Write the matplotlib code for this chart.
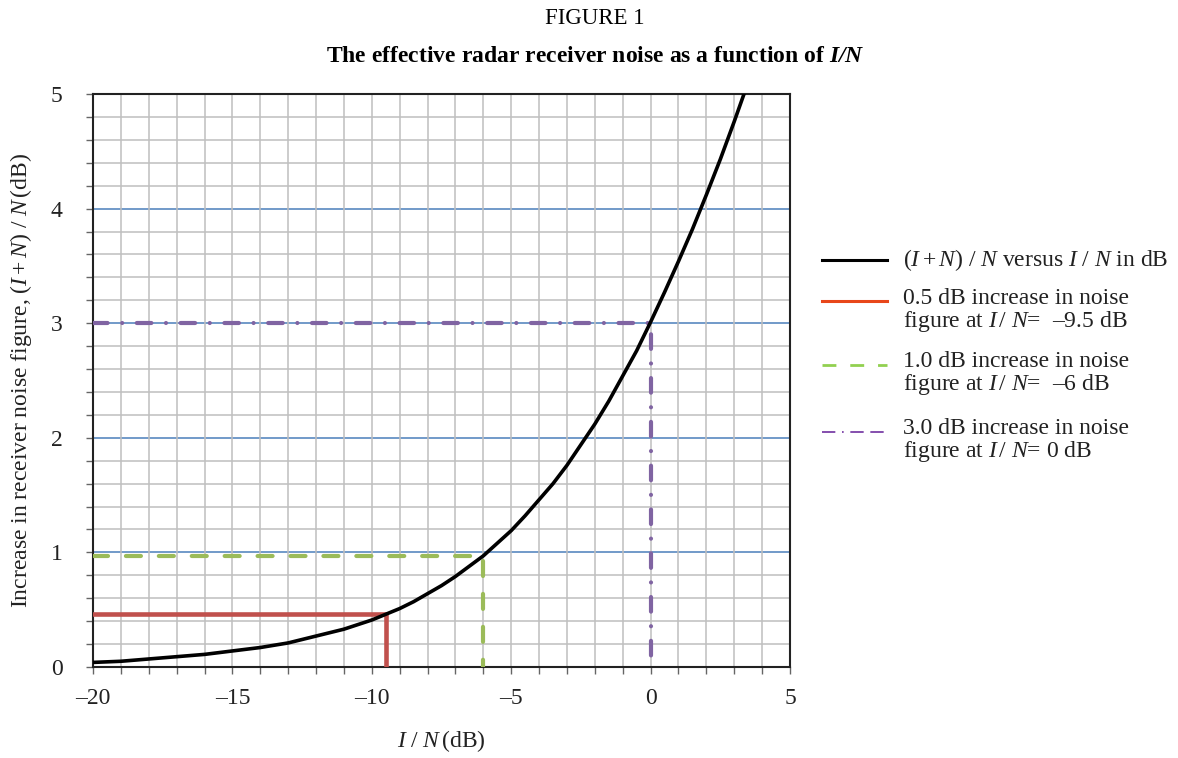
import matplotlib
matplotlib.use("Agg")
import matplotlib.pyplot as plt
from matplotlib.lines import Line2D
from matplotlib.ticker import MultipleLocator

plt.rcParams['font.family'] = ['Liberation Serif', 'DejaVu Serif']
plt.rcParams['mathtext.fontset'] = 'custom'
plt.rcParams['mathtext.rm'] = 'Liberation Serif'
plt.rcParams['mathtext.it'] = 'Liberation Serif:italic'
plt.rcParams['mathtext.bf'] = 'Liberation Serif:bold'
plt.rcParams['mathtext.bfit'] = 'Liberation Serif:bold:italic'

# ---- data ----
curve_x = [-20, -19, -18, -17, -16, -15, -14, -13, -12, -11, -10, -9.5, -9, -8.5, -8,
           -7.5, -7, -6.5, -6, -5.5, -5, -4.5, -4, -3.5, -3, -2.5, -2, -1.5, -1, -0.5,
           0, 0.5, 1, 1.5, 2, 2.5, 3, 3.35]
curve_y = [0.04, 0.05, 0.07, 0.09, 0.11, 0.14, 0.17, 0.21, 0.27, 0.33, 0.41, 0.46, 0.51,
           0.57, 0.64, 0.71, 0.79, 0.88, 0.97, 1.08, 1.19, 1.32, 1.46, 1.60, 1.76, 1.94,
           2.12, 2.32, 2.54, 2.76, 3.01, 3.27, 3.54, 3.82, 4.12, 4.43, 4.76, 5.00]

red_x = [-20, -9.5, -9.5]
red_y = [0.46, 0.46, 0.0]
green_x = [-20, -6, -6]
green_y = [0.97, 0.97, 0.0]
purple_x = [-20, 0, 0]
purple_y = [3.0, 3.0, 0.0]

x_ticks = [-20, -15, -10, -5, 0, 5]
x_tick_labels = ['–20', '–15', '–10', '–5', '0', '5']
y_ticks = [0, 1, 2, 3, 4, 5]
blue_levels = [1, 2, 3, 4]

legend_labels = [
    r'$(I + N)\ /\ N$ versus $I\ /\ N$ in dB',
    '0.5 dB increase in noise\nfigure at $I\\,/\\ N$=  –9.5 dB',
    '1.0 dB increase in noise\nfigure at $I\\,/\\ N$=  –6 dB',
    '3.0 dB increase in noise\nfigure at $I\\,/\\ N$= 0 dB',
]

W, H = 1178, 758
fig = plt.figure(figsize=(W / 100, H / 100), dpi=100)
ax = fig.add_axes([93 / W, 1 - 667 / H, (790 - 93) / W, (667 - 94) / H])

ax.set_xlim(-20, 5)
ax.set_ylim(0, 5)

# grid
ax.xaxis.set_minor_locator(MultipleLocator(1))
ax.yaxis.set_minor_locator(MultipleLocator(0.2))
ax.grid(which='minor', color='#bfbfbf', linewidth=1.1, zorder=0)
ax.grid(which='major', axis='x', color='#bfbfbf', linewidth=1.1, zorder=0)
for lv in blue_levels:
    ax.axhline(lv, color='#4a7ebb', linewidth=1.1, zorder=1)

ax.set_xticks(x_ticks)
ax.set_xticklabels(x_tick_labels)
ax.set_yticks(y_ticks)
ax.tick_params(axis='both', which='both', direction='out', color='#666666', labelsize=17,
               labelcolor='#222222')
ax.tick_params(axis='x', which='both', length=5, width=1, pad=10)
ax.tick_params(axis='y', which='both', length=5, width=1, pad=17)
for s in ax.spines.values():
    s.set_color('#222222')
    s.set_linewidth(1.5)

# reference lines
ax.plot(red_x, red_y, color='#c0504d', linewidth=3.3, zorder=3, solid_joinstyle='miter')
ax.plot(green_x, green_y, color='#9bbb59', linewidth=3.0, zorder=3,
        linestyle=(0, (3.6, 4.3)), dash_capstyle='round')
ax.plot(purple_x, purple_y, color='#8064a2', linewidth=3.0, zorder=3,
        linestyle=(0, (3.5, 3.5, 0.01, 3.5)), dash_capstyle='round')
ax.plot(curve_x, curve_y, color='black', linewidth=2.6, zorder=4, clip_on=True)

ax.set_xlabel(r'$I\ /\ N\,$(dB)', fontsize=17, labelpad=14, color='#222222')
ax.set_ylabel(r'Increase in receiver noise figure, $(I + N)\ /\ N\,$(dB)', fontsize=17,
              labelpad=12, color='#222222')

fig.text(595 / W, 1 - 18 / H, 'FIGURE 1', ha='center', va='center', fontsize=16.5)
fig.text(595 / W, 1 - 56 / H,
         r'The effective radar receiver noise as a function of $\mathbfit{I/N}$',
         ha='center', va='center', fontsize=17, fontweight='bold')

# manual legend
leg_colors = ['black', '#e8471a', '#92d050', '#7030a0']
leg_styles = ['-', '-', (0, (5, 5)), (0, (8, 4, 1, 4, 8, 4))]
leg_widths = [2.2, 2.2, 2.0, 1.2]
leg_line_y = [260, 301, 365, 432]
leg_text_y = [260, 311, 374, 441]
for c, st, lw, ly, ty, lab in zip(leg_colors, leg_styles, leg_widths, leg_line_y, leg_text_y, legend_labels):
    fig.add_artist(Line2D([822 / W, 887 / W], [1 - ly / H, 1 - ly / H], color=c,
                          linestyle=st, linewidth=lw, transform=fig.transFigure))
    fig.text(903 / W, 1 - ty / H, lab, ha='left', va='center', fontsize=17, linespacing=1.0,
             color='#222222')

fig.savefig('out.png', dpi=100)
